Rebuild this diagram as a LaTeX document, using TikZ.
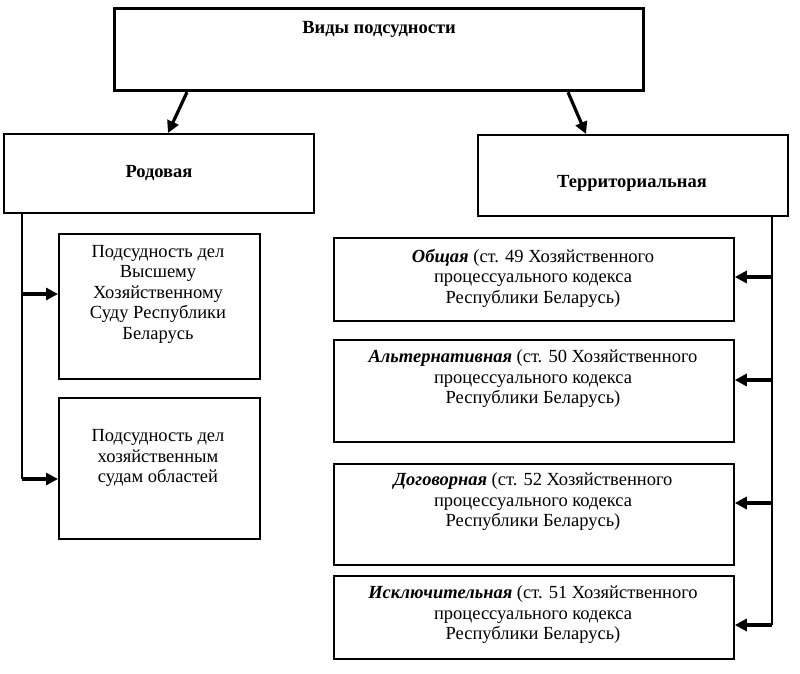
\documentclass[tikz,border=0pt]{standalone}
\usepackage{fontspec}
\setmainfont{Liberation Serif}
\usetikzlibrary{arrows.meta,calc}
\tikzset{
  box/.style={draw, line width=1.8pt, anchor=north west, inner sep=0pt, rectangle},
  topbox/.style={box, line width=3.2pt},
  txt/.style={align=center, inner sep=0pt, font=\fontsize{18.5}{20.5}\selectfont},
  head/.style={txt, font=\fontsize{18.5}{20.5}\selectfont\bfseries},
  arr/.style={line width=3.2pt, -{Triangle[length=12pt,width=12pt]}},
  trunk/.style={line width=1.8pt},
}
\begin{document}
\begin{tikzpicture}[x=1pt,y=-1pt]
\useasboundingbox (0,0) rectangle (800,673);
% boxes
\node[topbox, minimum width=529pt, minimum height=82pt] (top) at (113,7) {};
\node[box, minimum width=310pt, minimum height=79pt] (rod) at (3,133) {};
\node[box, minimum width=310pt, minimum height=81pt] (ter) at (477,134) {};
\node[box, minimum width=201pt, minimum height=145pt] (b1) at (58,233) {};
\node[box, minimum width=201pt, minimum height=141pt] (b2) at (58,397) {};
\node[box, minimum width=400pt, minimum height=83pt] (r1) at (333,237) {};
\node[box, minimum width=400pt, minimum height=102pt] (r2) at (333,339) {};
\node[box, minimum width=400pt, minimum height=101pt] (r3) at (333,463) {};
\node[box, minimum width=400pt, minimum height=83pt] (r4) at (333,575) {};
% texts
\node[head] (ttop) at (379,29) {Виды подсудности};
\node[head] (trod) at (159,173) {Родовая};
\node[head] (tter) at (632,183) {Территориальная};
\node[txt] (tb1) at (158,294) {Подсудность дел\\Высшему\\Хозяйственному\\Суду Республики\\Беларусь};
\node[txt] (tb2) at (158,458) {Подсудность дел\\хозяйственным\\судам областей};
\node[txt] (tr1) at (533,278) {\textbf{\textit{Общая}} (ст. 49 Хозяйственного\\процессуального кодекса\\Республики Беларусь)};
\node[txt] (tr2) at (533,379) {\textbf{\textit{Альтернативная}} (ст. 50 Хозяйственного\\процессуального кодекса\\Республики Беларусь)};
\node[txt] (tr3) at (533,502) {\textbf{\textit{Договорная}} (ст. 52 Хозяйственного\\процессуального кодекса\\Республики Беларусь)};
\node[txt] (tr4) at (533,615) {\textbf{\textit{Исключительная}} (ст. 51 Хозяйственного\\процессуального кодекса\\Республики Беларусь)};
% top arrows
\draw[arr] ([xshift=74pt]top.south west) -- ([xshift=165pt]rod.north west);
\draw[arr] ([xshift=455pt]top.south west) -- ([xshift=109pt]ter.north west);
% left trunk
\coordinate (lt) at ([xshift=19pt]rod.south west);
\coordinate (la1) at ([yshift=-61pt]b1.north west);
\coordinate (la2) at ([yshift=-82pt]b2.north west);
\draw[trunk] (lt) -- (lt |- la2);
\draw[arr] (lt |- la1) -- (la1);
\draw[arr] (lt |- la2) -- (la2);
% right trunk
\coordinate (rt) at ([xshift=-17pt]ter.south east);
\coordinate (ra1) at ([yshift=-40pt]r1.north east);
\coordinate (ra2) at ([yshift=-41pt]r2.north east);
\coordinate (ra3) at ([yshift=-40pt]r3.north east);
\coordinate (ra4) at ([yshift=-50pt]r4.north east);
\draw[trunk] (rt) -- (rt |- ra4);
\draw[arr] (rt |- ra1) -- (ra1);
\draw[arr] (rt |- ra2) -- (ra2);
\draw[arr] (rt |- ra3) -- (ra3);
\draw[arr] (rt |- ra4) -- (ra4);
\end{tikzpicture}
\end{document}
